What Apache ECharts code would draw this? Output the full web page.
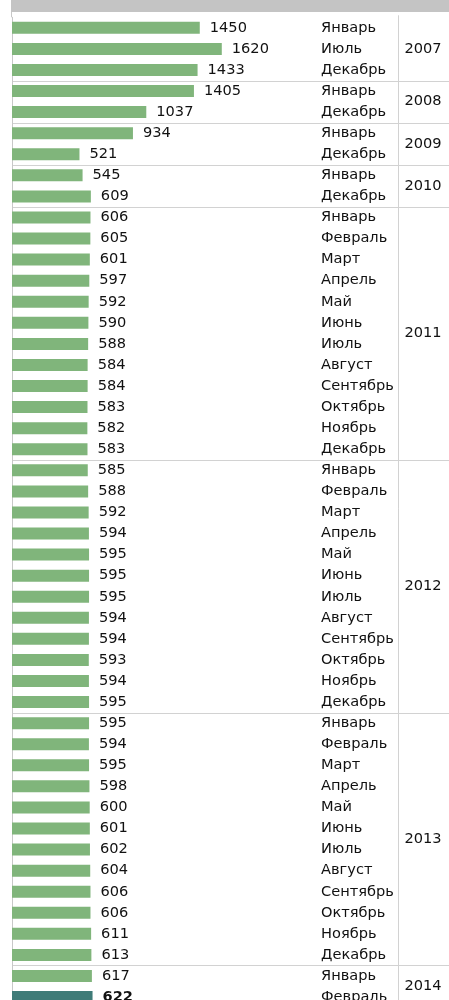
<!DOCTYPE html>
<html><head><meta charset="utf-8">
<script src="https://cdn.jsdelivr.net/npm/echarts@6/dist/echarts.min.js"></script>
<style>html,body{margin:0;padding:0;background:#fff}#c{width:449px;height:1000px}</style>
</head><body><div id="c"></div>
<script>
const years = ['2007','2008','2009','2010','2011','2012','2013','2014'];
const yearCounts = [3,2,2,2,12,12,12,2];
const months = [
  'Январь','Июль','Декабрь',
  'Январь','Декабрь',
  'Январь','Декабрь',
  'Январь','Декабрь',
  'Январь','Февраль','Март','Апрель','Май','Июнь','Июль','Август','Сентябрь','Октябрь','Ноябрь','Декабрь',
  'Январь','Февраль','Март','Апрель','Май','Июнь','Июль','Август','Сентябрь','Октябрь','Ноябрь','Декабрь',
  'Январь','Февраль','Март','Апрель','Май','Июнь','Июль','Август','Сентябрь','Октябрь','Ноябрь','Декабрь',
  'Январь','Февраль'
];
const values = [
  1450,1620,1433,
  1405,1037,
  934,521,
  545,609,
  606,605,601,597,592,590,588,584,584,583,582,583,
  585,588,592,594,595,595,595,594,594,593,594,595,
  595,594,595,598,600,601,602,604,606,606,611,613,
  617,622
];
const highlightIndex = 46;

const FONT = 'DejaVu Sans';
const FS = 14.6;
const GREEN = '#80b57b';
const TEAL = '#3f7b78';
const chart = echarts.init(document.getElementById('c'));
const cats = months.map((m, i) => String(i));

const option = {
  animation: false,
  backgroundColor: '#fff',
  grid: { left: 12, top: 17.3, width: 259, height: 990.3, outerBoundsMode: 'none', containLabel: false },
  xAxis: { type: 'value', min: 0, max: 2000, show: false },
  yAxis: [
    { type: 'category', data: cats, inverse: true, position: 'left',
      axisLine: { show: true, lineStyle: { color: '#c8c8c8', width: 1 } },
      axisTick: { show: false }, axisLabel: { show: false } },
    { type: 'category', data: cats, inverse: true, position: 'right',
      axisLine: { show: false }, axisTick: { show: false },
      axisLabel: { interval: 0, margin: 50, align: 'left', fontFamily: FONT, fontSize: FS, color: '#111',
        formatter: (v, i) => months[i] } }
  ],
  series: [{
    type: 'bar', yAxisIndex: 0, barWidth: 12,
    data: values.map((v, i) => i === highlightIndex
      ? { value: v, itemStyle: { color: TEAL }, label: { fontWeight: 'bold' } }
      : v),
    itemStyle: { color: GREEN },
    label: { show: true, position: 'right', distance: 10, fontFamily: FONT, fontSize: FS, color: '#111' }
  }]
};
chart.setOption(option);

// separators and year labels via axis scale
const g = [];
g.push({ type: 'rect', shape: { x: 11, y: 0, width: 438, height: 12 }, style: { fill: '#c4c4c4' }, z: 10 });
const yc = i => chart.convertToPixel({ yAxisIndex: 0 }, String(i));
const half = (yc(1) - yc(0)) / 2;
const topY = yc(0) - half;
const bottomY = yc(months.length - 1) + half;
g.push({ type: 'line', shape: { x1: 398.5, y1: topY - 2, x2: 398.5, y2: bottomY }, style: { stroke: '#d2d2d2', lineWidth: 1 } });
g.push({ type: 'line', shape: { x1: 11.5, y1: 12, x2: 11.5, y2: topY }, style: { stroke: '#c8c8c8', lineWidth: 1 } });
let start = 0;
yearCounts.forEach((n, k) => {
  const end = start + n - 1;
  const yTop = yc(start) - half, yBot = yc(end) + half;
  g.push({ type: 'text', x: 423, y: (yTop + yBot) / 2,
    style: { text: years[k], fontFamily: FONT, fontSize: FS, fill: '#111', align: 'center', verticalAlign: 'middle' } });
  if (k < yearCounts.length - 1) {
    const yy = Math.round(yBot) + 0.5;
    g.push({ type: 'line', shape: { x1: 12, y1: yy, x2: 449, y2: yy }, style: { stroke: '#d2d2d2', lineWidth: 1 } });
  }
  start = end + 1;
});
chart.setOption({ graphic: g });
</script>
</body></html>
